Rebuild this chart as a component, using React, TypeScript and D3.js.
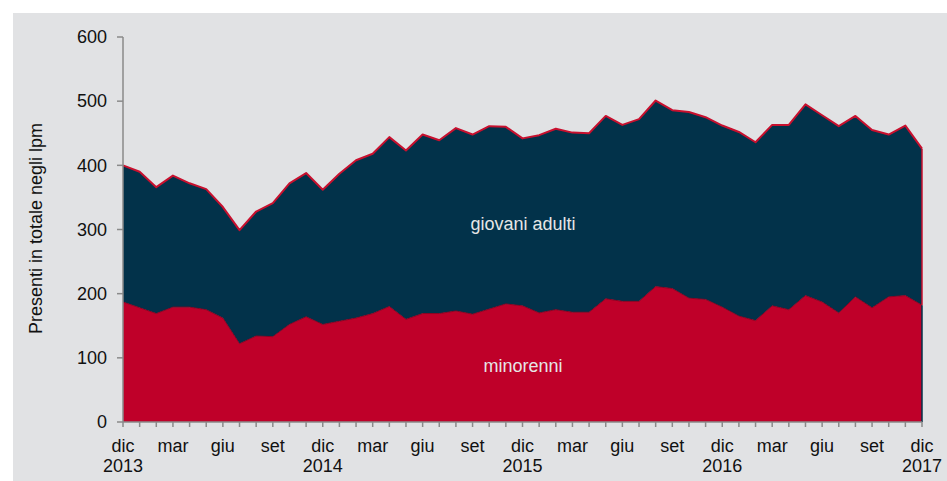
import React from "react";
import * as d3 from "d3";

const monthNames = ["dic", "gen", "feb", "mar", "apr", "mag", "giu", "lug", "ago", "set", "ott", "nov"];
const years = ["2013", "2014", "2015", "2016", "2017"];
const minorenni = [187,178,169,179,179,175,162,122,134,133,152,164,152,157,162,169,180,160,169,169,173,168,176,184,181,170,175,171,171,192,188,188,211,208,193,191,179,165,158,181,175,197,187,170,195,178,195,197,182];
const giovaniAdulti = [213,212,197,205,193,188,173,177,194,208,220,224,210,230,246,249,264,263,279,270,285,280,285,276,261,277,282,280,279,285,275,284,290,278,290,284,283,287,278,282,288,298,291,291,282,277,253,265,244];
const yTicks = [0, 100, 200, 300, 400, 500, 600];
const yTitle = "Presenti in totale negli lpm";
const seriesLabels = ["minorenni", "giovani adulti"];

const W = 947, H = 481;
const left = 123, right = 922, top = 37, bottom = 422;
const FONT = "'Liberation Sans', Arial, sans-serif";
const FS = 18;

export default function App() {
  const n = minorenni.length;
  const idx = d3.range(n);
  const x = d3.scaleLinear().domain([0, n - 1]).range([left, right]);
  const y = d3.scaleLinear().domain([0, 600]).range([bottom, top]);
  const totals = idx.map((i) => minorenni[i] + giovaniAdulti[i]);

  const areaMin = d3.area<number>().x((i) => x(i)).y0(y(0)).y1((i) => y(minorenni[i]));
  const areaGio = d3.area<number>().x((i) => x(i)).y0((i) => y(minorenni[i])).y1((i) => y(totals[i]));
  const lineMin = d3.line<number>().x((i) => x(i)).y((i) => y(minorenni[i]));
  const lineTot = d3.line<number>().x((i) => x(i)).y((i) => y(totals[i]));

  const axisColor = "#8a8a8a";
  return (
    <svg width={W} height={H} style={{ position: "absolute", left: 0, top: 0 }} fontFamily={FONT}>
      <rect x={13} y={13} width={W - 13} height={H - 13} fill="#e1e2e4" />
      <path d={areaMin(idx) || ""} fill="#bf0029" />
      <path d={areaGio(idx) || ""} fill="#02324a" />
      <path d={lineMin(idx) || ""} fill="none" stroke="#8c0020" strokeWidth={1} />
      <path d={lineTot(idx) || ""} fill="none" stroke="#c8102e" strokeWidth={2} strokeLinejoin="round" />
      <line x1={x(n - 1)} x2={x(n - 1)} y1={y(totals[n - 1])} y2={y(minorenni[n - 1])} stroke="#c8102e" strokeWidth={1.5} />
      <line x1={x(n - 1)} x2={x(n - 1)} y1={y(minorenni[n - 1])} y2={y(0)} stroke="#02324a" strokeWidth={1.5} />
      {/* y axis */}
      <line x1={left} x2={left} y1={top} y2={bottom} stroke={axisColor} strokeWidth={1.5} />
      {yTicks.map((t) => (
        <g key={t}>
          <line x1={left - 6} x2={left} y1={y(t)} y2={y(t)} stroke={axisColor} strokeWidth={1.5} />
          <text x={left - 16} y={y(t)} dy="0.35em" textAnchor="end" fontSize={FS} fill="#111">{t}</text>
        </g>
      ))}
      {/* x axis */}
      <line x1={left} x2={right} y1={bottom} y2={bottom} stroke={axisColor} strokeWidth={1.5} />
      {idx.map((i) => (
        <line key={i} x1={x(i)} x2={x(i)} y1={bottom} y2={bottom + 5} stroke={axisColor} strokeWidth={1.5} />
      ))}
      {idx.filter((i) => i % 3 === 0).map((i) => (
        <text key={"m" + i} x={x(i)} y={452} textAnchor="middle" fontSize={FS} fill="#111">{monthNames[i % 12]}</text>
      ))}
      {idx.filter((i) => i % 12 === 0).map((i) => (
        <text key={"y" + i} x={x(i)} y={472} textAnchor="middle" fontSize={FS} fill="#111">{years[i / 12]}</text>
      ))}
      <text transform={`translate(42,${(top + bottom) / 2 - 1}) rotate(-90)`} textAnchor="middle" fontSize={FS} fill="#111">{yTitle}</text>
      <text x={523} y={230} textAnchor="middle" fontSize={FS} fill="#e6e6e6">{seriesLabels[1]}</text>
      <text x={523} y={372} textAnchor="middle" fontSize={FS} fill="#e6e6e6">{seriesLabels[0]}</text>
    </svg>
  );
}
